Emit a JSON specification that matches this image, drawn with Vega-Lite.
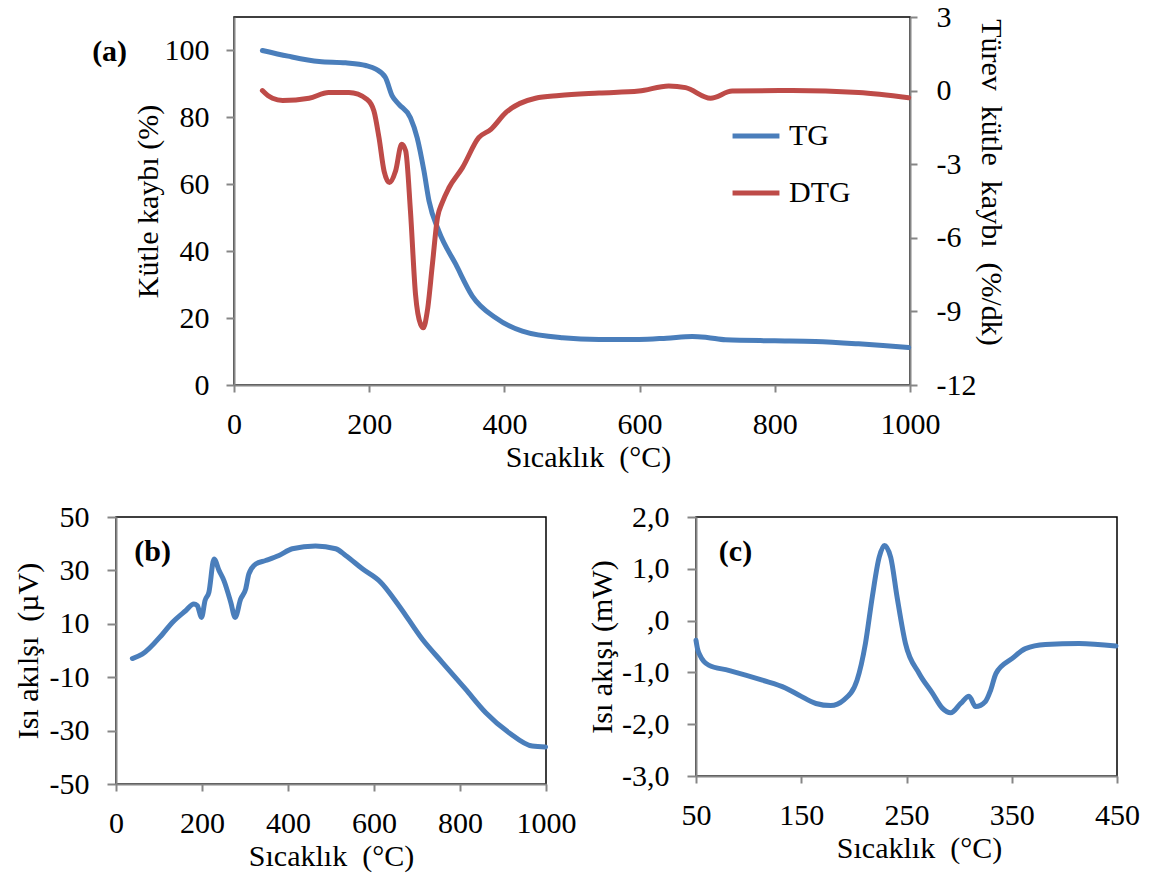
{
  "$schema": "https://vega.github.io/schema/vega-lite/v6.json",
  "padding": {"left": 12, "top": 1, "right": 5, "bottom": 2},
  "background": "white",
  "config": {
    "font": "Liberation Serif",
    "view": {"stroke": "black", "strokeWidth": 1.5},
    "axis": {
      "labelFont": "Liberation Serif", "labelFontSize": 30, "labelColor": "black",
      "titleFont": "Liberation Serif", "titleFontSize": 30, "titleFontWeight": "normal", "titleColor": "black",
      "domainColor": "#868686", "domainWidth": 2, "tickColor": "#868686", "tickWidth": 2,
      "grid": false, "labelFlush": false, "labelOverlap": false, "labelBound": false
    },
    "axisX": {"tickSize": 7, "labelPadding": 17, "titlePadding": 3},
    "axisY": {"tickSize": 8, "labelPadding": 17}
  },
  "datasets": {
    "a": [
      {"T": 42, "series": "TG", "v": 100}, {"T": 80, "series": "TG", "v": 98.3}, {"T": 126, "series": "TG", "v": 96.7},
      {"T": 165, "series": "TG", "v": 96.3}, {"T": 195, "series": "TG", "v": 95.5}, {"T": 210, "series": "TG", "v": 94.4},
      {"T": 224, "series": "TG", "v": 91.9}, {"T": 234, "series": "TG", "v": 86.4}, {"T": 244, "series": "TG", "v": 83.9},
      {"T": 261, "series": "TG", "v": 79.9}, {"T": 271, "series": "TG", "v": 73.9}, {"T": 281, "series": "TG", "v": 64},
      {"T": 288.5, "series": "TG", "v": 55}, {"T": 303, "series": "TG", "v": 46}, {"T": 328, "series": "TG", "v": 36.1},
      {"T": 352.5, "series": "TG", "v": 26.6}, {"T": 387, "series": "TG", "v": 20.1}, {"T": 426.5, "series": "TG", "v": 16.1},
      {"T": 486, "series": "TG", "v": 14.1}, {"T": 540, "series": "TG", "v": 13.6}, {"T": 599, "series": "TG", "v": 13.6},
      {"T": 640, "series": "TG", "v": 14}, {"T": 678, "series": "TG", "v": 14.5}, {"T": 700, "series": "TG", "v": 14.2},
      {"T": 727, "series": "TG", "v": 13.5}, {"T": 800, "series": "TG", "v": 13.2}, {"T": 860, "series": "TG", "v": 13},
      {"T": 924, "series": "TG", "v": 12.3}, {"T": 960, "series": "TG", "v": 11.8}, {"T": 998, "series": "TG", "v": 11.2},
      {"T": 42, "series": "DTG", "v": 0}, {"T": 50, "series": "DTG", "v": -0.2}, {"T": 57, "series": "DTG", "v": -0.31},
      {"T": 72, "series": "DTG", "v": -0.4}, {"T": 111, "series": "DTG", "v": -0.31}, {"T": 140, "series": "DTG", "v": -0.08},
      {"T": 170, "series": "DTG", "v": -0.08}, {"T": 197, "series": "DTG", "v": -0.36}, {"T": 207, "series": "DTG", "v": -0.83},
      {"T": 214.5, "series": "DTG", "v": -1.92}, {"T": 222, "series": "DTG", "v": -3.28}, {"T": 230, "series": "DTG", "v": -3.75},
      {"T": 239, "series": "DTG", "v": -3.28}, {"T": 248, "series": "DTG", "v": -2.19}, {"T": 254, "series": "DTG", "v": -2.46},
      {"T": 261, "series": "DTG", "v": -4.9}, {"T": 268.5, "series": "DTG", "v": -8.3}, {"T": 276, "series": "DTG", "v": -9.53},
      {"T": 280, "series": "DTG", "v": -9.67}, {"T": 286, "series": "DTG", "v": -8.98}, {"T": 293.5, "series": "DTG", "v": -7.08},
      {"T": 301, "series": "DTG", "v": -5.18}, {"T": 308, "series": "DTG", "v": -4.57}, {"T": 318, "series": "DTG", "v": -3.96},
      {"T": 338, "series": "DTG", "v": -3.14}, {"T": 362, "series": "DTG", "v": -1.92}, {"T": 380, "series": "DTG", "v": -1.58},
      {"T": 402, "series": "DTG", "v": -0.9}, {"T": 446, "series": "DTG", "v": -0.31}, {"T": 481, "series": "DTG", "v": -0.2},
      {"T": 540, "series": "DTG", "v": -0.1}, {"T": 599, "series": "DTG", "v": -0.02}, {"T": 643, "series": "DTG", "v": 0.19},
      {"T": 668, "series": "DTG", "v": 0.12}, {"T": 705, "series": "DTG", "v": -0.31}, {"T": 737, "series": "DTG", "v": -0.02},
      {"T": 826, "series": "DTG", "v": 0}, {"T": 924, "series": "DTG", "v": -0.08}, {"T": 998, "series": "DTG", "v": -0.29}
    ],
    "b": [
      {"T": 38, "v": -3.0}, {"T": 61, "v": -1.4}, {"T": 108, "v": 6.1}, {"T": 131, "v": 10.5}, {"T": 162, "v": 14.9},
      {"T": 181, "v": 17.4}, {"T": 189, "v": 16.8}, {"T": 199, "v": 12.4}, {"T": 207, "v": 18.7}, {"T": 216, "v": 21.8},
      {"T": 228, "v": 34.3}, {"T": 239.5, "v": 30}, {"T": 251, "v": 26.2}, {"T": 267, "v": 18}, {"T": 277, "v": 12.4},
      {"T": 290, "v": 19.3}, {"T": 301.5, "v": 23}, {"T": 309, "v": 28.7}, {"T": 325, "v": 32.4}, {"T": 348, "v": 33.7},
      {"T": 379, "v": 35.6}, {"T": 410, "v": 38.1}, {"T": 464, "v": 39.1}, {"T": 511, "v": 38.1}, {"T": 534, "v": 35.6},
      {"T": 573, "v": 30.6}, {"T": 615.5, "v": 25.6}, {"T": 658, "v": 16.8}, {"T": 712, "v": 4.3}, {"T": 759, "v": -4.5},
      {"T": 813, "v": -14.5}, {"T": 860, "v": -23.3}, {"T": 914, "v": -30.8}, {"T": 968, "v": -35.8}, {"T": 999, "v": -36.1}
    ],
    "c": [
      {"T": 50, "v": -0.38}, {"T": 51.5, "v": -0.55}, {"T": 54, "v": -0.68}, {"T": 62, "v": -0.86}, {"T": 81, "v": -0.96},
      {"T": 113, "v": -1.15}, {"T": 135, "v": -1.3}, {"T": 148, "v": -1.44}, {"T": 164, "v": -1.6}, {"T": 178, "v": -1.64},
      {"T": 190.6, "v": -1.53}, {"T": 203, "v": -1.15}, {"T": 211, "v": -0.44}, {"T": 217.5, "v": 0.46}, {"T": 224, "v": 1.22},
      {"T": 229, "v": 1.45}, {"T": 235, "v": 1.22}, {"T": 241, "v": 0.46}, {"T": 249, "v": -0.44}, {"T": 262, "v": -1.02},
      {"T": 274.6, "v": -1.4}, {"T": 284, "v": -1.69}, {"T": 292, "v": -1.78}, {"T": 301.5, "v": -1.6}, {"T": 309.4, "v": -1.46},
      {"T": 315.7, "v": -1.66}, {"T": 325, "v": -1.56}, {"T": 330, "v": -1.34}, {"T": 335, "v": -1.02}, {"T": 350.5, "v": -0.73},
      {"T": 363, "v": -0.54}, {"T": 382, "v": -0.46}, {"T": 414, "v": -0.44}, {"T": 449, "v": -0.49}
    ]
  },
  "spacing": 28,
  "vconcat": [
    {
      "bounds": "flush",
      "spacing": 117,
      "hconcat": [
        {
          "width": 1, "height": 1,
          "view": {"stroke": null},
          "data": {"values": []},
          "mark": {"type": "point", "opacity": 0},
          "encoding": {}
        },
        {
          "width": 676, "height": 368,
          "data": {"name": "a"},
          "layer": [
            {
              "layer": [
                {
                  "transform": [{"filter": "datum.series == 'TG'"}],
                  "mark": {"type": "line", "strokeWidth": 5, "interpolate": "monotone", "strokeCap": "round"},
                  "encoding": {
                    "x": {"field": "T", "type": "quantitative", "scale": {"domain": [0, 1000], "nice": false},
                          "axis": {"values": [0, 200, 400, 600, 800, 1000], "format": "d", "title": "Sıcaklık\u00a0 (°C)", "titleX": 354}},
                    "y": {"field": "v", "type": "quantitative", "scale": {"domain": [0, 110], "nice": false},
                          "axis": {"values": [0, 20, 40, 60, 80, 100], "format": "d", "title": "Kütle kaybı (%)", "titlePadding": 1}},
                    "color": {"field": "series", "type": "nominal",
                              "scale": {"domain": ["TG", "DTG"], "range": ["#4a7ebb", "#be4b48"]},
                              "legend": {"orient": "none", "legendX": 614, "legendY": 93, "title": null,
                                         "labelFont": "Liberation Serif", "labelFontSize": 30, "labelColor": "black",
                                         "symbolType": "stroke", "symbolSize": 2200, "symbolStrokeWidth": 5,
                                         "rowPadding": 16, "labelOffset": 7, "padding": 0}}
                  }
                },
                {
                  "data": {"values": [{"label": "(a)"}]},
                  "mark": {"type": "text", "fontWeight": "bold", "fontSize": 30, "font": "Liberation Serif", "align": "center", "baseline": "middle", "color": "black"},
                  "encoding": {
                    "text": {"field": "label"},
                    "x": {"datum": -184, "type": "quantitative"},
                    "y": {"datum": 99.5, "type": "quantitative"}
                  }
                }
              ]
            },
            {
              "transform": [{"filter": "datum.series == 'DTG'"}],
              "mark": {"type": "line", "strokeWidth": 5, "interpolate": "monotone", "strokeCap": "round"},
              "encoding": {
                "x": {"field": "T", "type": "quantitative"},
                "y": {"field": "v", "type": "quantitative", "scale": {"domain": [-12, 3], "nice": false},
                      "axis": {"orient": "right", "values": [-12, -9, -6, -3, 0, 3], "format": "d",
                               "labelExpr": "replace(datum.label, '−', '-')",
                               "title": "Türev\u00a0 kütle\u00a0 kaybı\u00a0 (%/dk)", "titlePadding": 0, "titleY": 165,
                               "tickSize": 7, "labelPadding": 19}},
                "color": {"field": "series", "type": "nominal"}
              }
            }
          ],
          "resolve": {"scale": {"y": "independent"}}
        }
      ]
    },
    {
      "bounds": "flush",
      "spacing": 150,
      "hconcat": [
        {
          "width": 430, "height": 267,
          "layer": [
            {
              "data": {"name": "b"},
              "mark": {"type": "line", "strokeWidth": 5, "interpolate": "monotone", "strokeCap": "round", "color": "#4a7ebb"},
              "encoding": {
                "x": {"field": "T", "type": "quantitative", "scale": {"domain": [0, 1000], "nice": false},
                      "axis": {"values": [0, 200, 400, 600, 800, 1000], "format": "d", "title": "Sıcaklık\u00a0 (°C)"}},
                "y": {"field": "v", "type": "quantitative", "scale": {"domain": [-50, 50], "nice": false},
                      "axis": {"values": [-50, -30, -10, 10, 30, 50], "format": "d",
                               "labelExpr": "replace(datum.label, '−', '-')",
                               "title": "Isı akılşı\u00a0 (µV)", "titlePadding": 6, "tickSize": 9, "labelPadding": 18}}
              }
            },
            {
              "data": {"values": [{"label": "(b)"}]},
              "mark": {"type": "text", "fontWeight": "bold", "fontSize": 30, "font": "Liberation Serif", "align": "center", "baseline": "middle", "color": "black"},
              "encoding": {
                "text": {"field": "label"},
                "x": {"datum": 85, "type": "quantitative"},
                "y": {"datum": 36.8, "type": "quantitative"}
              }
            }
          ]
        },
        {
          "width": 421, "height": 259,
          "layer": [
            {
              "data": {"name": "c"},
              "mark": {"type": "line", "strokeWidth": 5, "interpolate": "monotone", "strokeCap": "round", "color": "#4a7ebb"},
              "encoding": {
                "x": {"field": "T", "type": "quantitative", "scale": {"domain": [50, 450], "nice": false},
                      "axis": {"values": [50, 150, 250, 350, 450], "format": "d", "title": "Sıcaklık\u00a0 (°C)", "titleX": 223}},
                "y": {"field": "v", "type": "quantitative", "scale": {"domain": [-3, 2], "nice": false},
                      "axis": {"values": [-3, -2, -1, 0, 1, 2],
                               "labelExpr": "datum.value == 0 ? ',0' : replace(replace(format(datum.value, '.1f'), '.', ','), '−', '-')",
                               "title": "Isı akışı (mW)", "titlePadding": 4, "tickSize": 9, "labelPadding": 18}}
              }
            },
            {
              "data": {"values": [{"label": "(c)"}]},
              "mark": {"type": "text", "fontWeight": "bold", "fontSize": 30, "font": "Liberation Serif", "align": "center", "baseline": "middle", "color": "black"},
              "encoding": {
                "text": {"field": "label"},
                "x": {"datum": 87.5, "type": "quantitative"},
                "y": {"datum": 1.33, "type": "quantitative"}
              }
            }
          ]
        }
      ]
    }
  ]
}
